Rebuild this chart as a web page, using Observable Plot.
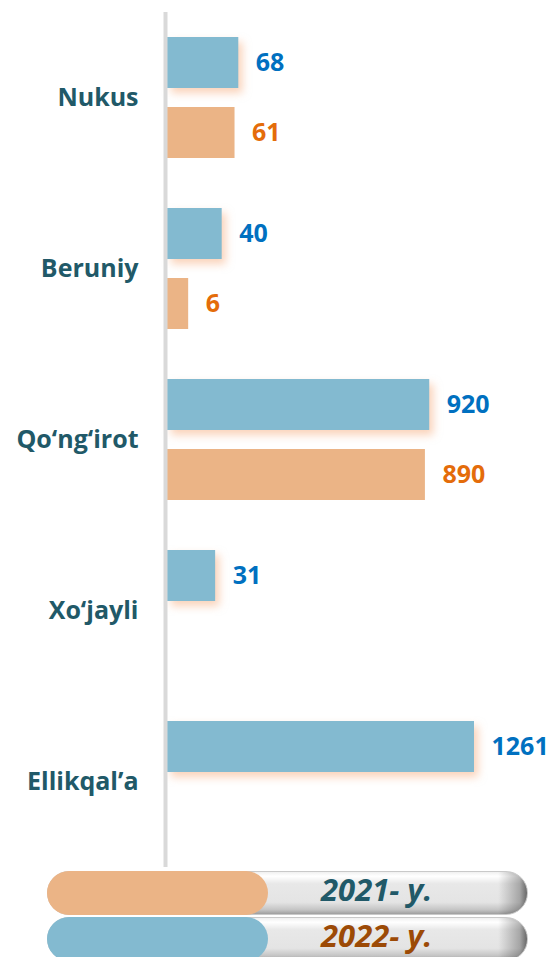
<!DOCTYPE html>
<html>
<head>
<meta charset="utf-8">
<script src="https://cdn.jsdelivr.net/npm/d3@7"></script>
<script src="https://cdn.jsdelivr.net/npm/@observablehq/plot@0.6"></script>
<style>
  html, body { margin: 0; padding: 0; background: #fff; }
  body { width: 550px; height: 957px; overflow: hidden; font-family: "Open Sans", sans-serif; }
  #legend { position: relative; width: 550px; height: 90px; margin-top: 4px; }
  .pill {
    position: absolute; left: 47px; width: 481px; height: 44px; border-radius: 22px;
    box-sizing: border-box; border: 1px solid #c9c9c9;
    background:
      linear-gradient(to right, rgba(0,0,0,0) 0%, rgba(0,0,0,0) 94%, rgba(0,0,0,0.28) 98.5%, rgba(0,0,0,0.55) 100%),
      linear-gradient(to bottom, #f0f0f0 0%, #ffffff 10%, #e8e8e8 28%, #e4e4e4 72%, #c4c4c4 90%, #9e9e9e 100%);
  }
  .swatch { position: absolute; left: -1px; top: -1px; width: 221px; height: 44px; border-radius: 22px; }
  .lbl {
    position: absolute; left: 273px; top: 1px; line-height: 32px; height: 34px;
    font-size: 31px; font-weight: bold; font-style: italic; white-space: nowrap;
  }
</style>
</head>
<body>
<div id="chart"></div>
<div id="legend"></div>
<script>
// ---- data ----
const cities = ["Nukus", "Beruniy", "Qo‘ng‘irot", "Xo‘jayli", "Ellikqal’a"];
const values2022 = [68, 40, 920, 31, 1261];
const values2021 = [61, 6, 890, null, null];
const legendLabels = ["2021- y.", "2022- y."];

// ---- styles ----
const BLUE = "#83BAD0", ORANGE = "#EBB486";
const BLUE_TXT = "#0070C0", ORANGE_TXT = "#E46C0A";
const LABEL = "#215968";

const rows2022 = cities.map((c, i) => ({city: c, value: values2022[i]})).filter(d => d.value != null);
const rows2021 = cities.map((c, i) => ({city: c, value: values2021[i]})).filter(d => d.value != null);
const maxV = d3.max(values2022.concat(values2021).filter(v => v != null));

const chart = Plot.plot({
  width: 550,
  height: 867,
  marginTop: 12,
  marginBottom: 0,
  marginLeft: 167,
  marginRight: 76,
  x: {type: "sqrt", domain: [0, maxV], axis: null},
  y: {type: "band", domain: cities, padding: 0, axis: null},
  style: {fontFamily: "'Open Sans', sans-serif", background: "white"},
  marks: [
    Plot.barX(rows2022, {x: "value", y: "city", fill: BLUE, insetTop: 25, insetBottom: 95}),
    Plot.barX(rows2021, {x: "value", y: "city", fill: ORANGE, insetTop: 95, insetBottom: 25}),
    Plot.ruleX([0], {stroke: "#d9d9d9", strokeWidth: 4, dx: -2}),
    Plot.text(rows2022, {x: "value", y: "city", text: d => String(d.value), dy: -35, dx: 17,
      textAnchor: "start", fill: BLUE_TXT, fontSize: 25, fontWeight: "bold"}),
    Plot.text(rows2021, {x: "value", y: "city", text: d => String(d.value), dy: 35, dx: 17,
      textAnchor: "start", fill: ORANGE_TXT, fontSize: 25, fontWeight: "bold"}),
    Plot.text(cities, {y: d => d, text: d => d, frameAnchor: "left", dx: -29, textAnchor: "end",
      fill: LABEL, fontSize: 25, fontWeight: "bold"})
  ]
});
document.getElementById("chart").appendChild(chart);
const barGroups = chart.querySelectorAll('g[aria-label="bar"]');
if (barGroups[0]) barGroups[0].style.filter = "drop-shadow(4px 5px 4px rgba(245,165,115,0.5))";

// ---- legend ----
const legend = document.getElementById("legend");
const legendColors = [ORANGE, BLUE];
const legendText = [LABEL, "#9C4A06"];
legendLabels.forEach((t, i) => {
  const pill = document.createElement("div");
  pill.className = "pill";
  pill.style.top = (i * 46) + "px";
  const sw = document.createElement("div");
  sw.className = "swatch";
  sw.style.background = legendColors[i];
  const lb = document.createElement("div");
  lb.className = "lbl";
  lb.style.color = legendText[i];
  lb.textContent = t;
  pill.appendChild(sw);
  pill.appendChild(lb);
  legend.appendChild(pill);
});
</script>
</body>
</html>
